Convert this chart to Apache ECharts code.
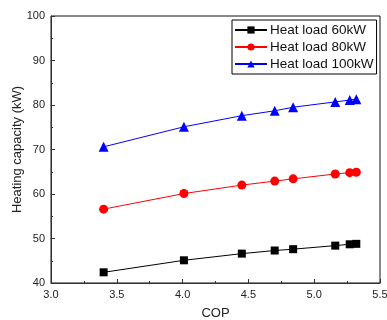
<!DOCTYPE html>
<html>
<head>
<meta charset="utf-8">
<script src="https://cdn.jsdelivr.net/npm/echarts@6/dist/echarts.min.js"></script>
<style>
  html, body { margin: 0; padding: 0; background: #fff; }
  #chart { width: 387px; height: 320px; }
</style>
</head>
<body>
<div id="chart"></div>
<script>
// COP values (x) shared by all three heat loads
const cop = [3.40, 4.01, 4.45, 4.70, 4.84, 5.16, 5.27, 5.32]
const load60 = [42.4, 45.1, 46.6, 47.3, 47.6, 48.4, 48.7, 48.8]
const load80 = [56.6, 60.1, 62.0, 62.9, 63.4, 64.5, 64.8, 64.9]
const load100 = [70.6, 75.1, 77.6, 78.7, 79.5, 80.7, 81.1, 81.3]
const seriesNames = ['Heat load 60kW', 'Heat load 80kW', 'Heat load 100kW']

const pairs = (ys) => cop.map((x, i) => [x, ys[i]])

const chart = echarts.init(document.getElementById('chart'))
const font = 'Liberation Sans, Arial, sans-serif'

const axisCommon = {
  axisLine: { show: true, onZero: false, lineStyle: { color: '#333', width: 1 } },
  axisTick: { show: true, inside: true, length: 4, lineStyle: { color: '#333' } },
  minorTick: { show: true, splitNumber: 2, length: 2, lineStyle: { color: '#333' } },
  splitLine: { show: false },
  axisLabel: { color: '#222', fontSize: 11, fontFamily: font, margin: 6 },
  nameTextStyle: { color: '#222', fontSize: 13, fontFamily: font },
  nameMoveOverlap: false,
}

const makeSeries = (name, data, color, symbol, size) => ({
  name,
  type: 'line',
  data: pairs(data),
  symbol,
  symbolSize: size,
  lineStyle: { color, width: 1 },
  itemStyle: { color },
  animation: false,
})

chart.setOption({
  animation: false,
  grid: {
    left: 51, right: 7, top: 16, bottom: 37,
    outerBoundsMode: 'none',
    containLabel: false,
    show: true, borderColor: '#111', borderWidth: 1,
  },
  legend: {
    orient: 'vertical',
    left: 232,
    top: 20,
    itemWidth: 32,
    itemHeight: 9,
    itemGap: 3,
    padding: [3, 3, 3, 2],
    borderColor: '#000',
    borderWidth: 1,
    backgroundColor: '#fff',
    textStyle: { color: '#111', fontSize: 13.5, fontFamily: font, padding: [0, 0, 0, -2] },
    data: seriesNames,
  },
  xAxis: {
    ...axisCommon,
    type: 'value',
    min: 3.0, max: 5.5, interval: 0.5,
    name: 'COP',
    nameLocation: 'middle',
    nameGap: 24,
    axisLabel: { ...axisCommon.axisLabel, formatter: (v) => v.toFixed(1) },
  },
  yAxis: {
    ...axisCommon,
    type: 'value',
    min: 40, max: 100, interval: 10,
    name: 'Heating capacity (kW)',
    nameLocation: 'middle',
    nameGap: 27,
  },
  series: [
    makeSeries(seriesNames[0], load60, '#000000', 'rect', 8),
    makeSeries(seriesNames[1], load80, '#ff0000', 'circle', 9),
    makeSeries(seriesNames[2], load100, '#0000ff', 'triangle', 10),
  ],
})
</script>
</body>
</html>
